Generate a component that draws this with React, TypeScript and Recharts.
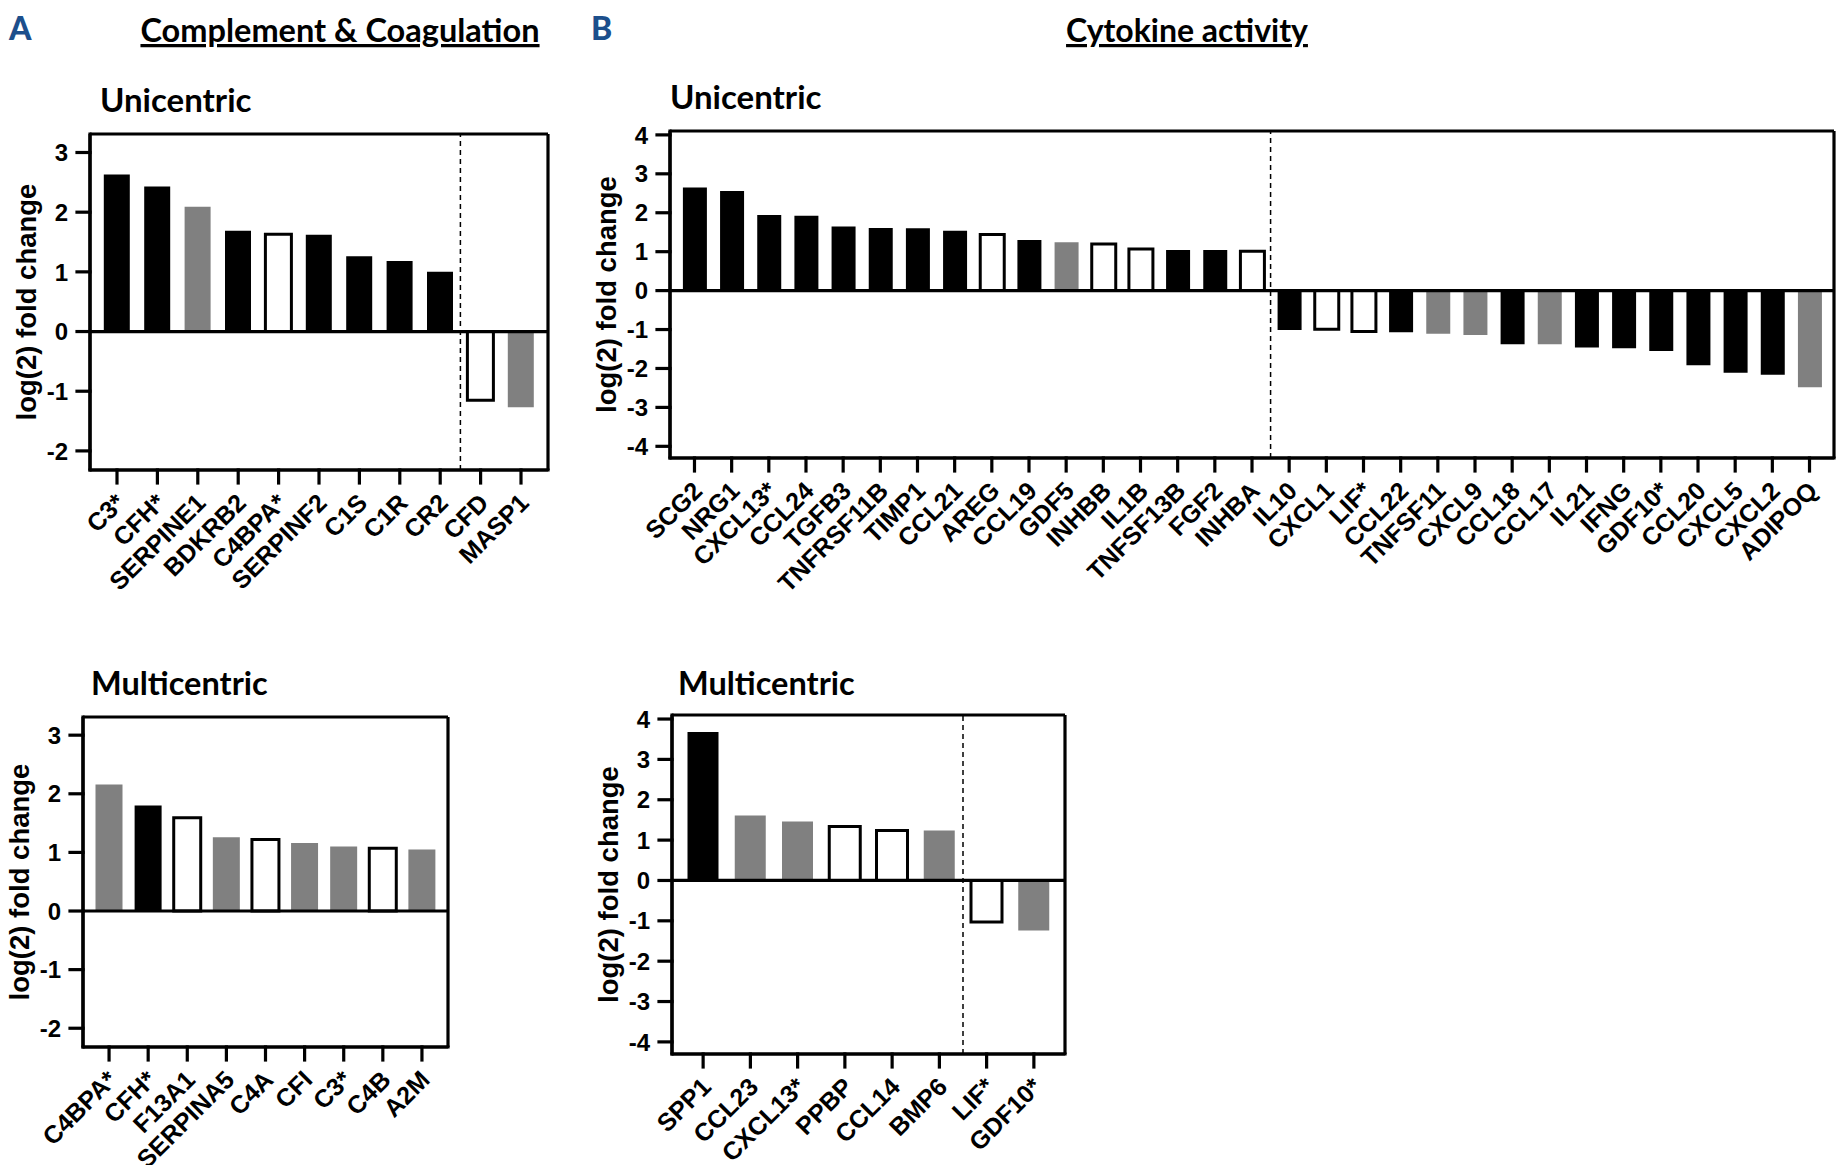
/**
 * Log2 fold-change bar panels — complement/coagulation and cytokine activity.
 */

import React from 'react';
import { BarChart, Bar, Cell, XAxis, YAxis, ReferenceLine, CartesianGrid } from 'recharts';

// A — Complement & Coagulation, unicentric
const aUniGenes = ['C3*', 'CFH*', 'SERPINE1', 'BDKRB2', 'C4BPA*', 'SERPINF2', 'C1S', 'C1R', 'CR2', 'CFD', 'MASP1'];
const aUniLog2FC = [2.63, 2.43, 2.09, 1.69, 1.63, 1.62, 1.26, 1.18, 1.0, -1.15, -1.27];
const aUniShade = ['k', 'k', 'g', 'k', 'w', 'k', 'k', 'k', 'k', 'w', 'g'];
const aUniSplit = 'CFD';

// A — Complement & Coagulation, multicentric
const aMultiGenes = ['C4BPA*', 'CFH*', 'F13A1', 'SERPINA5', 'C4A', 'CFI', 'C3*', 'C4B', 'A2M'];
const aMultiLog2FC = [2.16, 1.8, 1.59, 1.26, 1.22, 1.16, 1.1, 1.07, 1.05];
const aMultiShade = ['g', 'k', 'w', 'g', 'w', 'g', 'g', 'w', 'g'];

// B — Cytokine activity, unicentric
const bUniGenes = [
  'SCG2', 'NRG1', 'CXCL13*', 'CCL24', 'TGFB3', 'TNFRSF11B', 'TIMP1', 'CCL21', 'AREG', 'CCL19', 'GDF5',
  'INHBB', 'IL1B', 'TNFSF13B', 'FGF2', 'INHBA', 'IL10', 'CXCL1', 'LIF*', 'CCL22', 'TNFSF11', 'CXCL9',
  'CCL18', 'CCL17', 'IL21', 'IFNG', 'GDF10*', 'CCL20', 'CXCL5', 'CXCL2', 'ADIPOQ',
];
const bUniLog2FC = [
  2.65, 2.56, 1.94, 1.92, 1.65, 1.61, 1.6, 1.54, 1.44, 1.3, 1.24,
  1.2, 1.07, 1.04, 1.04, 1.01, -1.01, -0.99, -1.05, -1.07, -1.11, -1.14,
  -1.38, -1.38, -1.46, -1.48, -1.55, -1.92, -2.11, -2.16, -2.48,
];
const bUniShade = [
  'k', 'k', 'k', 'k', 'k', 'k', 'k', 'k', 'w', 'k', 'g',
  'w', 'w', 'k', 'k', 'w', 'k', 'w', 'w', 'k', 'g', 'g',
  'k', 'g', 'k', 'k', 'k', 'k', 'k', 'k', 'g',
];
const bUniSplit = 'IL10';

// B — Cytokine activity, multicentric
const bMultiGenes = ['SPP1', 'CCL23', 'CXCL13*', 'PPBP', 'CCL14', 'BMP6', 'LIF*', 'GDF10*'];
const bMultiLog2FC = [3.68, 1.61, 1.46, 1.34, 1.24, 1.24, -1.03, -1.24];
const bMultiShade = ['k', 'g', 'g', 'w', 'w', 'g', 'w', 'g'];
const bMultiSplit = 'LIF*';

const aTicks = [-2, -1, 0, 1, 2, 3];
const bTicks = [-4, -3, -2, -1, 0, 1, 2, 3, 4];

const INK = '#000000';
const SHADE: Record<string, string> = { k: '#000000', g: '#808080', w: '#ffffff' };
const AXIS_FONT = "'Liberation Sans', Arial, sans-serif";
const HEAD_FONT = "Lato, 'Open Sans', sans-serif";
const LINE_W = 3.2;

interface FoldChangeProps {
  genes: string[];
  values: number[];
  shades: string[];
  split?: string;
  domain: [number, number];
  ticks: number[];
  boxLeft: number;
  boxTop: number;
  boxWidth: number;
  boxHeight: number;
  padX: number;
  barSize: number;
  axisWidth?: number;
  labelHeight?: number;
}

function XTick({ x, y, payload }: any) {
  return (
    <g transform={`translate(${x + 3},${y + 13})`}>
      <text
        transform="rotate(-45)"
        textAnchor="end"
        dy="0.36em"
        fill={INK}
        style={{ fontFamily: AXIS_FONT, fontWeight: 700, fontSize: 25 }}
      >
        {payload.value}
      </text>
    </g>
  );
}

function YTick({ x, y, payload }: any) {
  return (
    <text
      x={x}
      y={y}
      dy="0.36em"
      textAnchor="end"
      fill={INK}
      style={{ fontFamily: AXIS_FONT, fontWeight: 700, fontSize: 24 }}
    >
      {payload.value}
    </text>
  );
}

function yTitle(props: any) {
  const { viewBox } = props;
  const cx = viewBox.x + viewBox.width - 64;
  const cy = viewBox.y + viewBox.height / 2;
  return (
    <text
      x={cx}
      y={cy}
      transform={`rotate(-90 ${cx} ${cy})`}
      textAnchor="middle"
      dominantBaseline="central"
      fill={INK}
      style={{ fontFamily: AXIS_FONT, fontWeight: 700, fontSize: 27.5 }}
    >
      log(2) fold change
    </text>
  );
}

// frame of the plot box, taken from the chart's own plot offset
const frameRows = ({ offset }: any) => [offset.top, offset.top + offset.height];
const frameCols = ({ offset }: any) => [offset.left, offset.left + offset.width];

function FoldChangeChart(p: FoldChangeProps) {
  const axisW = p.axisWidth ?? 90;
  const xh = p.labelHeight ?? 140;
  const mTop = 10;
  const mRight = 6;
  const width = axisW + p.boxWidth + mRight;
  const height = mTop + p.boxHeight + xh;
  const data = p.genes.map((gene, i) => ({ gene, log2fc: p.values[i] }));
  const frame = { stroke: INK, strokeWidth: LINE_W, strokeLinecap: 'square' as const };

  return (
    <div style={{ position: 'absolute', left: p.boxLeft - axisW, top: p.boxTop - mTop }}>
      <BarChart
        width={width}
        height={height}
        data={data}
        margin={{ top: mTop, right: mRight, bottom: 0, left: 0 }}
      >
        <CartesianGrid
          stroke={INK}
          strokeWidth={LINE_W}
          horizontalCoordinatesGenerator={frameRows}
          verticalCoordinatesGenerator={frameCols}
        />
        <XAxis
          dataKey="gene"
          interval={0}
          padding={{ left: p.padX, right: p.padX }}
          height={xh}
          tickSize={13}
          tickMargin={2}
          tickLine={frame}
          axisLine={frame}
          tick={XTick}
        />
        <YAxis
          type="number"
          domain={p.domain}
          ticks={p.ticks}
          width={axisW}
          tickSize={13}
          tickMargin={9}
          tickLine={frame}
          axisLine={frame}
          tick={YTick}
          label={yTitle}
        />
        <Bar dataKey="log2fc" barSize={p.barSize} isAnimationActive={false}>
          {data.map((d, i) => {
            const s = p.shades[i];
            return (
              <Cell
                key={d.gene}
                fill={SHADE[s]}
                stroke={s === 'w' ? INK : 'none'}
                strokeWidth={s === 'w' ? 3 : 0}
              />
            );
          })}
        </Bar>
        <ReferenceLine y={0} stroke={INK} strokeWidth={LINE_W} />
        {p.split && (
          <ReferenceLine
            x={p.split}
            position="start"
            stroke={INK}
            strokeWidth={1.5}
            strokeDasharray="5 4"
          />
        )}
      </BarChart>
    </div>
  );
}

export default function App() {
  const head = { fontFamily: HEAD_FONT, fontWeight: 700, fill: INK } as const;
  return (
    <div
      style={{
        position: 'absolute',
        left: 0,
        top: 0,
        width: 1843,
        height: 1165,
        overflow: 'hidden',
        background: '#ffffff',
      }}
    >
      <svg width={1843} height={1165} style={{ position: 'absolute', left: 0, top: 0 }}>
        <text x={9} y={40} fontFamily={HEAD_FONT} fontWeight={900} fontSize={32} fill="#1c4f8c">A</text>
        <text x={340} y={42} textAnchor="middle" fontSize={32.5} textDecoration="underline" {...head}>
          Complement &amp; Coagulation
        </text>
        <text x={591} y={40} fontFamily={HEAD_FONT} fontWeight={900} fontSize={32} fill="#1c4f8c">B</text>
        <text x={1187} y={42} textAnchor="middle" fontSize={32} textDecoration="underline" {...head}>
          Cytokine activity
        </text>
        <text x={100} y={112} fontSize={33} {...head}>Unicentric</text>
        <text x={670} y={109} fontSize={33} {...head}>Unicentric</text>
        <text x={91} y={695} fontSize={32.5} {...head}>Multicentric</text>
        <text x={678} y={695} fontSize={32.5} {...head}>Multicentric</text>
      </svg>

      <FoldChangeChart
        genes={aUniGenes}
        values={aUniLog2FC}
        shades={aUniShade}
        split={aUniSplit}
        domain={[-2.32, 3.31]}
        ticks={aTicks}
        boxLeft={90}
        boxTop={134}
        boxWidth={458}
        boxHeight={336}
        padX={6.8}
        barSize={26}
      />
      <FoldChangeChart
        genes={aMultiGenes}
        values={aMultiLog2FC}
        shades={aMultiShade}
        domain={[-2.32, 3.31]}
        ticks={aTicks}
        boxLeft={83}
        boxTop={717}
        boxWidth={365}
        boxHeight={330}
        padX={6.5}
        barSize={27}
        axisWidth={83}
        labelHeight={118}
      />
      <FoldChangeChart
        genes={bUniGenes}
        values={bUniLog2FC}
        shades={bUniShade}
        split={bUniSplit}
        domain={[-4.3, 4.1]}
        ticks={bTicks}
        boxLeft={670}
        boxTop={131}
        boxWidth={1164}
        boxHeight={327}
        padX={5.9}
        barSize={24}
      />
      <FoldChangeChart
        genes={bMultiGenes}
        values={bMultiLog2FC}
        shades={bMultiShade}
        split={bMultiSplit}
        domain={[-4.3, 4.1]}
        ticks={bTicks}
        boxLeft={672}
        boxTop={715}
        boxWidth={393}
        boxHeight={339}
        padX={7.5}
        barSize={31}
        labelHeight={110}
      />
    </div>
  );
}
